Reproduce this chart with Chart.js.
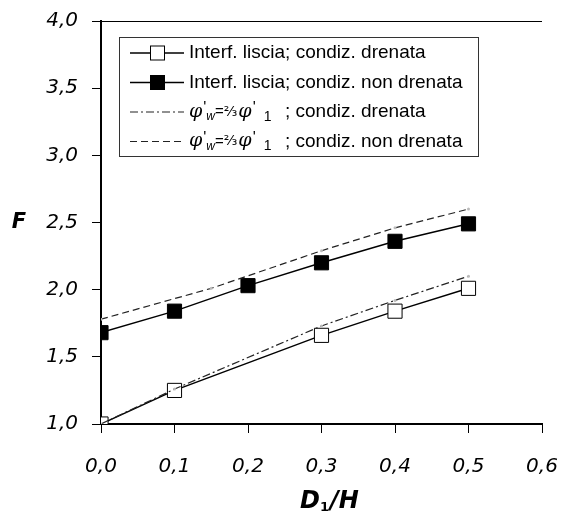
<!DOCTYPE html>
<html>
<head>
<meta charset="utf-8">
<script src="https://cdn.jsdelivr.net/npm/chart.js@4.4.1/dist/chart.umd.min.js"></script>
<style>
  html, body { margin: 0; padding: 0; background: #fff; }
</style>
</head>
<body>
<canvas id="myChart" width="561" height="511"></canvas>
<script>
// DATA
const xDrenata = [0, 0.1, 0.3, 0.4, 0.5];
const fDrenata = [1.00, 1.25, 1.66, 1.84, 2.01];
const xNonDrenata = [0, 0.1, 0.2, 0.3, 0.4, 0.5];
const fNonDrenata = [1.68, 1.84, 2.03, 2.20, 2.36, 2.49];
const xPhiDrenata = [0, 0.1, 0.3, 0.4, 0.5];
const fPhiDrenata = [1.00, 1.26, 1.73, 1.92, 2.10];
const xPhiNonDrenata = [0, 0.15, 0.3, 0.4, 0.5];
const fPhiNonDrenata = [1.78, 2.01, 2.29, 2.46, 2.60];
const seriesLabels = [
  'Interf. liscia; condiz. drenata',
  'Interf. liscia; condiz. non drenata',
  '; condiz. drenata',
  '; condiz. non drenata'
];
const yTitle = 'F';

const pts = (xs, ys) => xs.map((x, i) => ({ x: x, y: ys[i] }));
const comma = v => Number(v).toFixed(1).replace('.', ',');

// legend + frame + axis titles drawn by hand
const extras = {
  id: 'extras',
  afterDraw(chart) {
    const ctx = chart.ctx, a = chart.chartArea;
    ctx.save();
    // top frame line
    ctx.strokeStyle = '#000';
    ctx.lineWidth = 1;
    ctx.beginPath();
    ctx.moveTo(a.left, a.top + 0.5);
    ctx.lineTo(a.right, a.top + 0.5);
    ctx.stroke();

    // axis titles
    ctx.fillStyle = '#000';
    ctx.font = 'italic bold 21px "DejaVu Sans"';
    ctx.textAlign = 'center';
    ctx.textBaseline = 'middle';
    ctx.fillText(yTitle, 19, 223);

    ctx.textAlign = 'left';
    ctx.textBaseline = 'alphabetic';
    let x = 300;
    ctx.font = 'italic bold 24px "DejaVu Sans"';
    ctx.fillText('D', x, 508);
    x += ctx.measureText('D').width;
    ctx.font = 'bold 13px "DejaVu Sans"';
    ctx.fillText('1', x, 511);
    x += ctx.measureText('1').width + 1;
    ctx.font = 'italic bold 24px "DejaVu Sans"';
    ctx.fillText('/H', x, 508);

    // legend box
    ctx.fillStyle = '#fff';
    ctx.fillRect(119.5, 37.5, 359, 119);
    ctx.strokeStyle = '#333';
    ctx.strokeRect(119.5, 37.5, 359, 119);

    const rows = [53, 82.5, 112, 141.5];
    ctx.textBaseline = 'middle';
    chart.data.datasets.forEach((ds, i) => {
      const y = rows[i];
      ctx.strokeStyle = ds.borderColor;
      ctx.lineWidth = ds.borderWidth;
      ctx.setLineDash(ds.borderDash || []);
      ctx.beginPath();
      ctx.moveTo(130, y);
      ctx.lineTo(184, y);
      ctx.stroke();
      ctx.setLineDash([]);
      if (ds.pointRadius > 3) {
        ctx.fillStyle = ds.pointBackgroundColor;
        ctx.fillRect(150.5, y - 7, 14, 14);
        ctx.strokeStyle = '#000';
        ctx.lineWidth = 1;
        ctx.strokeRect(150.5, y - 7, 14, 14);
      }
      ctx.fillStyle = '#000';
      ctx.textAlign = 'left';
      if (i < 2) {
        ctx.font = '19px "Liberation Sans"';
        ctx.fillText(ds.label, 189, y);
      } else {
        drawPhi(ctx, 189, y);
        ctx.font = '19px "Liberation Sans"';
        ctx.fillText(ds.label, 285, y);
      }
    });
    ctx.restore();
  }
};

// phi'_w = 2/3 phi'_1 : [text, font, dy, gap before]
function drawPhi(ctx, x, y) {
  const parts = [
    ['φ', 'italic 19px "DejaVu Serif"', 0, 0],
    ["'", '16px "Liberation Sans"', -3, 1],
    ['w', 'italic 12px "Liberation Sans"', 5, 0],
    ['=', '15px "Liberation Sans"', 0, 0],
    ['⅔', '14px "DejaVu Sans"', 0, 0],
    ['φ', 'italic 19px "DejaVu Serif"', 0, 1],
    ["'", '16px "Liberation Sans"', -3, 1],
    ['1', '14px "Liberation Sans"', 5, 8]
  ];
  parts.forEach(p => {
    x += p[3];
    ctx.font = p[1];
    ctx.fillText(p[0], x, y + p[2]);
    x += ctx.measureText(p[0]).width;
  });
}

const tickFont = { family: 'DejaVu Sans', style: 'italic', size: 20 };

new Chart(document.getElementById('myChart'), {
  type: 'line',
  data: {
    datasets: [{
      label: seriesLabels[0],
      data: pts(xDrenata, fDrenata),
      borderColor: '#000',
      borderWidth: 1.5,
      pointStyle: 'rect',
      pointRadius: 10,
      pointBackgroundColor: '#fff',
      pointBorderColor: '#000',
      pointBorderWidth: 1,
      order: 1
    }, {
      label: seriesLabels[1],
      data: pts(xNonDrenata, fNonDrenata),
      borderColor: '#000',
      borderWidth: 1.5,
      pointStyle: 'rect',
      pointRadius: 10,
      pointBackgroundColor: '#000',
      pointBorderColor: '#000',
      pointBorderWidth: 1,
      order: 1
    }, {
      label: seriesLabels[2],
      data: pts(xPhiDrenata, fPhiDrenata),
      borderColor: '#222',
      borderWidth: 1.2,
      borderDash: [8, 3, 2, 3],
      pointRadius: 1.5,
      pointBackgroundColor: '#bbb',
      pointBorderWidth: 0,
      order: 0
    }, {
      label: seriesLabels[3],
      data: pts(xPhiNonDrenata, fPhiNonDrenata),
      borderColor: '#222',
      borderWidth: 1.2,
      borderDash: [7, 4],
      pointRadius: 1.5,
      pointBackgroundColor: '#bbb',
      pointBorderWidth: 0,
      order: 0
    }]
  },
  options: {
    responsive: false,
    animation: false,
    layout: { padding: { top: 21, right: 19, left: 0, bottom: 0 } },
    plugins: {
      legend: { display: false },
      tooltip: { enabled: false }
    },
    scales: {
      x: {
        type: 'linear',
        min: 0,
        max: 0.6,
        ticks: { stepSize: 0.1, color: '#000', padding: 22, font: tickFont, callback: v => comma(v) },
        grid: { drawOnChartArea: false, drawTicks: true, tickLength: 9, color: '#000', lineWidth: 1 },
        border: { color: '#000', width: 2 },
        afterFit: s => { s.height = 87; s.paddingLeft = 0; s.paddingRight = 0; }
      },
      y: {
        min: 1,
        max: 4,
        ticks: { stepSize: 0.5, color: '#000', padding: 14, font: tickFont, callback: v => comma(v) },
        grid: { drawOnChartArea: false, drawTicks: true, tickLength: 9, color: '#000', lineWidth: 1 },
        border: { color: '#000', width: 2 },
        afterFit: s => { s.width = 101; s.paddingTop = 0; s.paddingBottom = 0; }
      }
    }
  },
  plugins: [extras]
});
</script>
</body>
</html>
